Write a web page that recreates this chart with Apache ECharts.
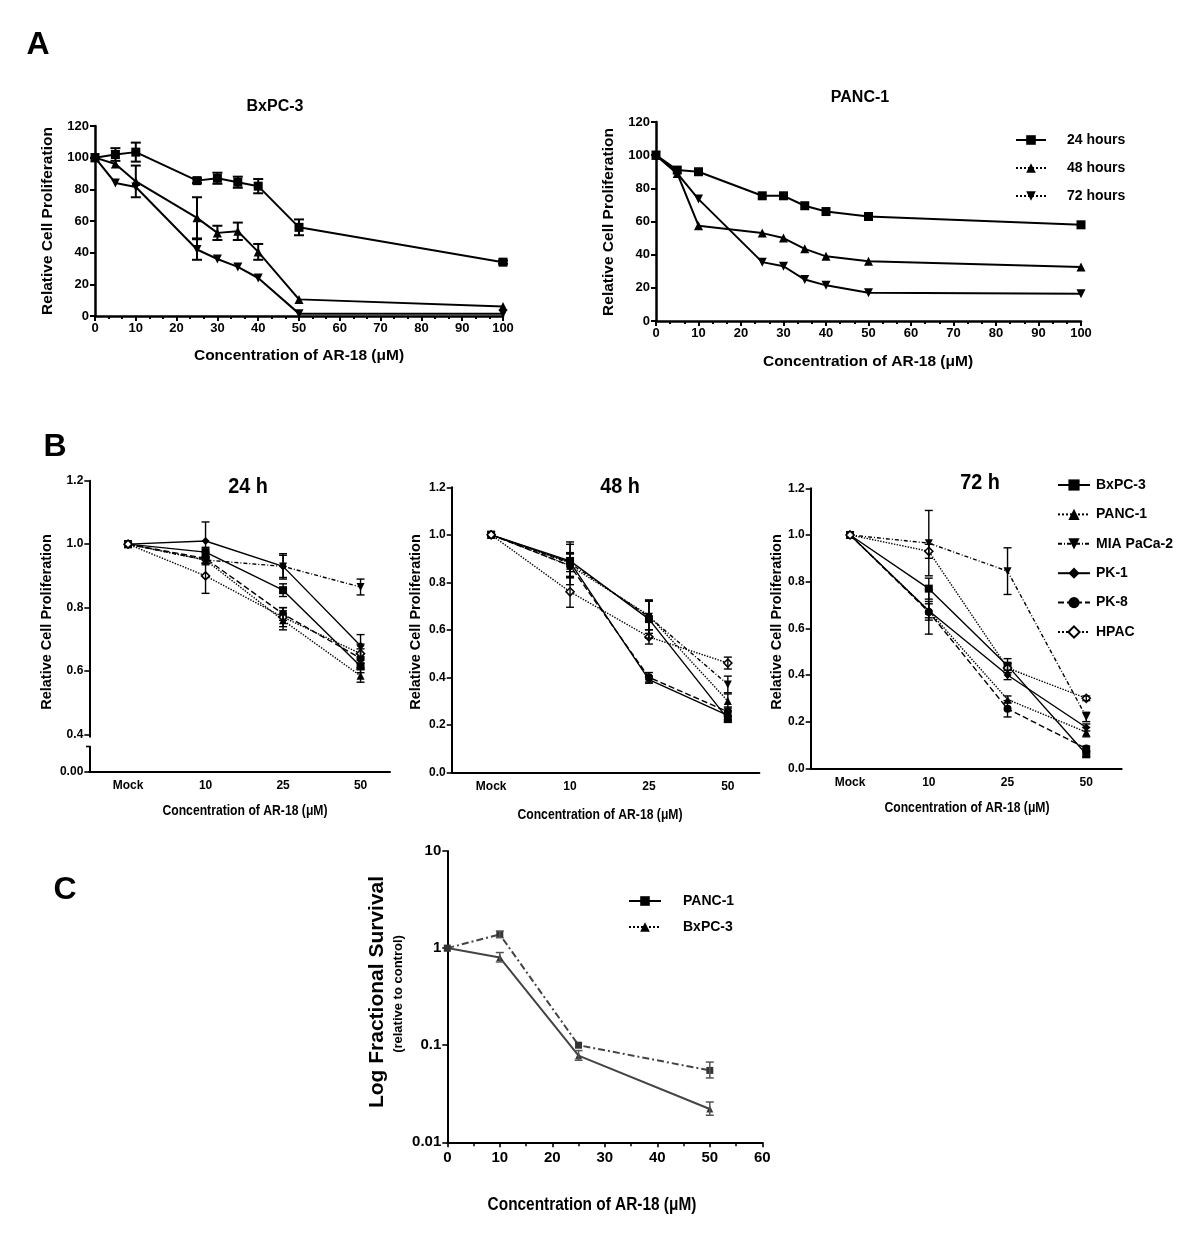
<!DOCTYPE html>
<html><head><meta charset="utf-8">
<script src="https://cdn.jsdelivr.net/npm/echarts@6/dist/echarts.min.js"></script>
<style>html,body{margin:0;padding:0;background:#fff;}.c{position:absolute;left:0;top:0;width:1200px;height:1244px;}</style>
</head><body>
<div id="pa" class="c"></div><div id="pb" class="c"></div><div id="pc" class="c"></div>
<script>
// ---------- DATA ----------
// Panel A
const concA = [0, 5, 10, 25, 30, 35, 40, 50, 100];
const seriesA = ['24 hours', '48 hours', '72 hours'];
const bx24 = [100, 102, 103.5, 85.5, 87, 84.5, 82, 56, 34];
const bx24Err = [0, 4, 6, 1.5, 3.5, 3.5, 4.5, 5, 1];
const bx48 = [100, 96, 85, 62, 52.5, 53.5, 40.5, 10.5, 6];
const bx48Err = [0, 0, 10, 13, 4.5, 5.5, 5, 0, 0];
const bx72 = [100, 84, 81.5, 42, 36, 31, 24, 1.5, 1.5];
const bx72Err = [0, 0, 0, 6.5, 0, 0, 0, 0, 0];
const pa24 = [100, 91, 90, 75.5, 75.5, 69.5, 66, 63, 58];
const pa48 = [100, 89, 57.5, 53, 50, 43.5, 39, 36, 32.5];
const pa72 = [100, 89, 73.5, 35.5, 33, 25, 21.5, 17, 16.5];

// Panel B
const catsB = ['Mock', '10', '25', '50'];
const cellLines = ['BxPC-3', 'PANC-1', 'MIA PaCa-2', 'PK-1', 'PK-8', 'HPAC'];
// rows follow cellLines order
const val24 = [
  [1, 0.975, 0.855, 0.615],
  [1, 0.95, 0.76, 0.585],
  [1, 0.95, 0.93, 0.865],
  [1, 1.01, 0.93, 0.68],
  [1, 0.955, 0.78, 0.64],
  [1, 0.90, 0.77, 0.655]
];
const err24 = [
  [0, 0.015, 0.02, 0.02],
  [0, 0.01, 0.03, 0.02],
  [0, 0.01, 0.04, 0.025],
  [0, 0.06, 0.035, 0.035],
  [0, 0.02, 0.02, 0.03],
  [0, 0.055, 0.03, 0.03]
];
const val48 = [
  [1, 0.89, 0.645, 0.225],
  [1, 0.87, 0.66, 0.30],
  [1, 0.88, 0.655, 0.37],
  [1, 0.885, 0.39, 0.24],
  [1, 0.87, 0.40, 0.255],
  [1, 0.76, 0.57, 0.46]
];
const err48 = [
  [0, 0.07, 0.08, 0.015],
  [0, 0.05, 0.06, 0.03],
  [0, 0.09, 0.07, 0.035],
  [0, 0.04, 0.015, 0.02],
  [0, 0.05, 0.02, 0.02],
  [0, 0.065, 0.03, 0.025]
];
const val72 = [
  [1, 0.77, 0.44, 0.06],
  [1, 0.675, 0.295, 0.155],
  [1, 0.965, 0.845, 0.22],
  [1, 0.675, 0.40, 0.175],
  [1, 0.67, 0.255, 0.085],
  [1, 0.93, 0.43, 0.30]
];
const err72 = [
  [0, 0.045, 0.03, 0.01],
  [0, 0.03, 0.015, 0.02],
  [0, 0.14, 0.10, 0.02],
  [0, 0.04, 0.02, 0.015],
  [0, 0.095, 0.035, 0.01],
  [0, 0.03, 0.02, 0.01]
];
const ticksB1_y = [0.282, 0.4, 0.6, 0.8, 1.0, 1.2];
const labelsB1_y = ['0.00', '0.4', '0.6', '0.8', '1.0', '1.2'];

// Panel C
const concC = [0, 10, 25, 50];
const seriesC = ['PANC-1', 'BxPC-3'];
const pancC = [1, 0.8, 0.078, 0.022];
const pancC_lo = [1, 0.72, 0.07, 0.019];
const pancC_hi = [1, 0.9, 0.088, 0.026];
const bxC = [1, 1.38, 0.1, 0.055];
const bxC_lo = [1, 1.28, 0.1, 0.046];
const bxC_hi = [1, 1.5, 0.1, 0.067];

// ---------- STYLE ----------
const FA = "'Liberation Sans', Arial, sans-serif";

function txt(x, y, text, size, rot, sx) {
  return { type: 'text', x: x, y: y, rotation: rot || 0, scaleX: sx || 1, silent: true,
    style: { text: text, font: 'bold ' + size + 'px ' + FA, fill: '#000',
      align: 'center', verticalAlign: 'middle', textAlign: 'center', textVerticalAlign: 'middle' } };
}
function errBars(gi, xs, lows, highs, color, lw, cap) {
  const data = [];
  xs.forEach(function (x, i) { if (highs[i] !== lows[i]) data.push([x, lows[i], highs[i]]); });
  return { type: 'custom', xAxisIndex: gi, yAxisIndex: gi, data: data, encode: { x: 0, y: [1, 2] },
    silent: true, z: 5, animation: false,
    renderItem: function (params, api) {
      const x = api.value(0);
      const p1 = api.coord([x, api.value(1)]);
      const p2 = api.coord([x, api.value(2)]);
      const st = { stroke: color, lineWidth: lw };
      return { type: 'group', children: [
        { type: 'line', shape: { x1: p1[0], y1: p1[1], x2: p2[0], y2: p2[1] }, style: st },
        { type: 'line', shape: { x1: p1[0] - cap, y1: p1[1], x2: p1[0] + cap, y2: p1[1] }, style: st },
        { type: 'line', shape: { x1: p2[0] - cap, y1: p2[1], x2: p2[0] + cap, y2: p2[1] }, style: st }
      ] };
    } };
}
function axisBase(size, lw) {
  return {
    axisLine: { show: true, onZero: false, lineStyle: { color: '#000', width: lw } },
    axisTick: { show: true, length: 5, lineStyle: { color: '#000', width: lw * 0.8 } },
    axisLabel: { color: '#000', fontWeight: 'bold', fontSize: size, fontFamily: FA, margin: 6 },
    splitLine: { show: false }
  };
}

// ---------- PANEL A ----------
const chartA = echarts.init(document.getElementById('pa'), null, { renderer: 'canvas' });
const symA = [{ s: 'rect', r: 0 }, { s: 'triangle', r: 0 }, { s: 'triangle', r: 180 }];
function lineA(gi, name, ys, k) {
  return { type: 'line', name: name, xAxisIndex: gi, yAxisIndex: gi, animation: false,
    data: concA.map(function (c, i) { return [c, ys[i]]; }),
    symbol: symA[k].s, symbolRotate: symA[k].r, symbolSize: 9,
    lineStyle: { color: '#000', width: 2 }, itemStyle: { color: '#000' }, z: 4 };
}
function xA() {
  return Object.assign(axisBase(13, 2.5), { type: 'value', min: 0, max: 100, interval: 10,
    minorTick: { show: true, splitNumber: 3, length: 3, lineStyle: { color: '#000', width: 2 } } });
}
function yA() {
  return Object.assign(axisBase(13, 2.5), { type: 'value', min: 0, max: 120, interval: 20 });
}
function legA(name, top, dotted) {
  const d = { name: name };
  if (dotted) d.lineStyle = { type: 'dotted' };
  return { orient: 'vertical', left: 1010, top: top, itemWidth: 30, itemHeight: 12, selectedMode: false,
    textStyle: { fontWeight: 'bold', fontSize: 14, fontFamily: FA, color: '#000', padding: [0, 0, 0, 16] },
    data: [d] };
}
chartA.setOption({
  animation: false,
  grid: [
    { left: 95, top: 126, width: 408, height: 190 },
    { left: 656, top: 122, width: 425, height: 199 }
  ],
  xAxis: [Object.assign(xA(), { gridIndex: 0 }), Object.assign(xA(), { gridIndex: 1 })],
  yAxis: [Object.assign(yA(), { gridIndex: 0 }), Object.assign(yA(), { gridIndex: 1 })],
  legend: [legA(seriesA[0], 128, false), legA(seriesA[1], 156, true), legA(seriesA[2], 184, true)],
  series: [
    lineA(0, seriesA[0], bx24, 0), lineA(0, seriesA[1], bx48, 1), lineA(0, seriesA[2], bx72, 2),
    errBars(0, concA, bx24.map(function (v, i) { return v - bx24Err[i]; }), bx24.map(function (v, i) { return v + bx24Err[i]; }), '#000', 2, 5),
    errBars(0, concA, bx48.map(function (v, i) { return v - bx48Err[i]; }), bx48.map(function (v, i) { return v + bx48Err[i]; }), '#000', 2, 5),
    errBars(0, concA, bx72.map(function (v, i) { return v - bx72Err[i]; }), bx72.map(function (v, i) { return v + bx72Err[i]; }), '#000', 2, 5),
    lineA(1, seriesA[0], pa24, 0), lineA(1, seriesA[1], pa48, 1), lineA(1, seriesA[2], pa72, 2)
  ],
  graphic: [
    txt(38, 45, 'A', 32),
    txt(275, 107, 'BxPC-3', 16),
    txt(860, 98, 'PANC-1', 16),
    txt(48, 221, 'Relative Cell Proliferation', 15.5, Math.PI / 2),
    txt(609, 222, 'Relative Cell Proliferation', 15.5, Math.PI / 2),
    txt(299, 356, 'Concentration of AR-18 (\u03bcM)', 15.5),
    txt(868, 362, 'Concentration of AR-18 (\u03bcM)', 15.5)
  ]
});

// ---------- PANEL B ----------
const chartB = echarts.init(document.getElementById('pb'), null, { renderer: 'canvas' });
const STY = [
  { s: 'rect', r: 0, t: 'solid', f: '#000' },
  { s: 'triangle', r: 0, t: 'dotted', f: '#000' },
  { s: 'triangle', r: 180, t: [4, 2, 1, 2], f: '#000' },
  { s: 'diamond', r: 0, t: 'solid', f: '#000' },
  { s: 'circle', r: 0, t: [6, 3], f: '#000' },
  { s: 'diamond', r: 0, t: 'dotted', f: '#fff' }
];
const valsB = [val24, val48, val72];
const errsB = [err24, err48, err72];
const seriesB = [];
valsB.forEach(function (vals, gi) {
  vals.forEach(function (ys, k) {
    const st = STY[k];
    seriesB.push({ type: 'line', name: cellLines[k], xAxisIndex: gi, yAxisIndex: gi, animation: false,
      data: ys.map(function (v, i) { return [i, v]; }),
      symbol: st.s, symbolRotate: st.r, symbolSize: 8,
      lineStyle: { color: '#000', width: 1.4, type: st.t },
      itemStyle: { color: st.f, borderColor: '#000', borderWidth: st.f === '#fff' ? 1.6 : 0 }, z: 4 });
    const e = errsB[gi][k];
    seriesB.push(errBars(gi, ys.map(function (v, i) { return i; }),
      ys.map(function (v, i) { return v - e[i]; }), ys.map(function (v, i) { return v + e[i]; }), '#000', 1.4, 4));
  });
});
function xB(gi, max) {
  const a = axisBase(12, 2);
  return Object.assign(a, { type: 'value', gridIndex: gi, min: -0.5, max: max, interval: 0.5,
    axisTick: { show: false },
    axisLabel: Object.assign(a.axisLabel, { margin: 8, showMaxLabel: false, showMinLabel: false,
      formatter: function (v) { const r = Math.round(v); return Math.abs(v - r) < 1e-6 && catsB[r] !== undefined ? catsB[r] : ''; } }) });
}
function yB(gi) {
  const a = axisBase(12, 2);
  return Object.assign(a, { type: 'value', gridIndex: gi, min: 0, max: 1.2, interval: 0.2,
    axisLabel: Object.assign(a.axisLabel, { formatter: function (v) { return v.toFixed(1); } }) });
}
const yB1 = axisBase(12, 2);
Object.assign(yB1, { type: 'value', gridIndex: 0, min: 0.282, max: 1.2 });
yB1.axisTick = Object.assign(yB1.axisTick, { customValues: ticksB1_y });
yB1.axisLabel = Object.assign(yB1.axisLabel, { customValues: ticksB1_y,
  formatter: function (v) { let k = 0; ticksB1_y.forEach(function (t, i) { if (Math.abs(t - v) < 1e-6) k = i; }); return labelsB1_y[k]; } });

chartB.setOption({
  animation: false,
  grid: [
    { left: 89.3, top: 480.7, width: 300.7, height: 291.3 },
    { left: 451.7, top: 487.3, width: 307.7, height: 285 },
    { left: 810.7, top: 488.3, width: 311, height: 280 }
  ],
  xAxis: [xB(0, 3.38), xB(1, 3.4), xB(2, 3.45)],
  yAxis: [yB1, yB(1), yB(2)],
  legend: {
    orient: 'vertical', left: 1052, top: 473, itemWidth: 32, itemHeight: 14, itemGap: 15.4,
    textStyle: { fontWeight: 'bold', fontSize: 14, fontFamily: FA, color: '#000', padding: [0, 0, 0, 1] },
    data: cellLines.map(function (n) { return { name: n }; }),
    selectedMode: false
  },
  series: seriesB,
  graphic: [
    txt(55, 447, 'B', 32),
    txt(248, 487, '24 h', 22, 0, 0.9),
    txt(620, 487, '48 h', 22, 0, 0.9),
    txt(980, 483, '72 h', 22, 0, 0.9),
    txt(47, 622, 'Relative Cell Proliferation', 14.5, Math.PI / 2),
    txt(416, 622, 'Relative Cell Proliferation', 14.5, Math.PI / 2),
    txt(777, 622, 'Relative Cell Proliferation', 14.5, Math.PI / 2),
    txt(245, 811, 'Concentration of AR-18 (\u03bcM)', 14, 0, 0.87),
    txt(600, 815, 'Concentration of AR-18 (\u03bcM)', 14, 0, 0.87),
    txt(967, 808, 'Concentration of AR-18 (\u03bcM)', 14, 0, 0.87),
    { type: 'rect', shape: { x: 86, y: 737.5, width: 8, height: 8.5 }, style: { fill: '#fff' }, z: 100 },
    { type: 'line', shape: { x1: 86, y1: 746.5, x2: 90.5, y2: 746.5 }, style: { stroke: '#000', lineWidth: 1.6 }, z: 101 }
  ]
});

// ---------- PANEL C ----------
const chartC = echarts.init(document.getElementById('pc'), null, { renderer: 'canvas' });
const xC = Object.assign(axisBase(15, 2), { type: 'value', min: 0, max: 60, interval: 10,
  minorTick: { show: true, splitNumber: 2, length: 4, lineStyle: { color: '#000', width: 1.5 } } });
xC.axisLabel.margin = 8;
const yC = Object.assign(axisBase(15, 2), { type: 'log', logBase: 10, min: 0.01, max: 10 });
chartC.setOption({
  animation: false,
  grid: { left: 447.3, top: 851, width: 315, height: 291.3 },
  xAxis: xC,
  yAxis: yC,
  legend: {
    orient: 'vertical', left: 623, top: 889, itemWidth: 32, itemHeight: 12, itemGap: 12,
    textStyle: { fontWeight: 'bold', fontSize: 14, fontFamily: FA, color: '#000', padding: [0, 0, 0, 17] },
    data: [{ name: seriesC[0], lineStyle: { color: '#000', type: 'solid' }, itemStyle: { color: '#000' } },
      { name: seriesC[1], lineStyle: { color: '#000', type: 'dotted' }, itemStyle: { color: '#000' } }],
    selectedMode: false
  },
  series: [
    { type: 'line', name: seriesC[0], symbol: 'rect', symbolSize: 7,
      data: concC.map(function (c, i) { return { value: [c, pancC[i]], symbol: 'triangle' }; }),
      lineStyle: { color: '#444', width: 2 }, itemStyle: { color: '#333' }, z: 4 },
    { type: 'line', name: seriesC[1], symbol: 'triangle', symbolSize: 7,
      data: concC.map(function (c, i) { return { value: [c, bxC[i]], symbol: 'rect' }; }),
      lineStyle: { color: '#444', width: 2, type: [7, 3, 2, 3] }, itemStyle: { color: '#333' }, z: 4 },
    errBars(0, concC, pancC_lo, pancC_hi, '#555', 1.5, 4),
    errBars(0, concC, bxC_lo, bxC_hi, '#555', 1.5, 4)
  ],
  graphic: [
    txt(65, 890, 'C', 32),
    txt(377, 992, 'Log Fractional Survival', 21, Math.PI / 2),
    txt(398, 994, '(relative to control)', 13, Math.PI / 2),
    txt(592, 1205, 'Concentration of AR-18 (\u03bcM)', 17.5, 0, 0.88)
  ]
});
</script></body></html>
